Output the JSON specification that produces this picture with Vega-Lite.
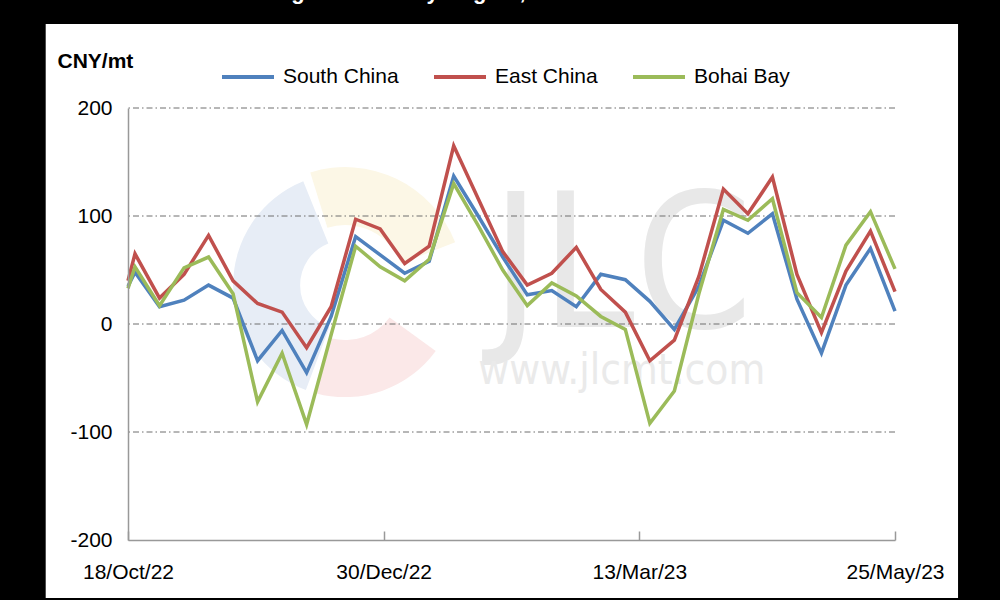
{
  "$schema": "https://vega.github.io/schema/vega-lite/v6.json",
  "width": 767,
  "height": 432,
  "autosize": {"type": "none"},
  "padding": {"left": 128, "top": 108, "right": 105, "bottom": 60},
  "background": "#000000",
  "config": {"view": {"stroke": null}, "font": "Liberation Sans"},
  "data": {
    "values": [
      {"date": "2022-10-18", "region": "South China", "value": 35},
      {"date": "2022-10-18", "region": "East China", "value": 40},
      {"date": "2022-10-18", "region": "Bohai Bay", "value": 33},
      {"date": "2022-10-20", "region": "South China", "value": 48},
      {"date": "2022-10-20", "region": "East China", "value": 65},
      {"date": "2022-10-20", "region": "Bohai Bay", "value": 53},
      {"date": "2022-10-27", "region": "South China", "value": 16},
      {"date": "2022-10-27", "region": "East China", "value": 24},
      {"date": "2022-10-27", "region": "Bohai Bay", "value": 17},
      {"date": "2022-11-03", "region": "South China", "value": 22},
      {"date": "2022-11-03", "region": "East China", "value": 46},
      {"date": "2022-11-03", "region": "Bohai Bay", "value": 52},
      {"date": "2022-11-10", "region": "South China", "value": 36},
      {"date": "2022-11-10", "region": "East China", "value": 82},
      {"date": "2022-11-10", "region": "Bohai Bay", "value": 62},
      {"date": "2022-11-17", "region": "South China", "value": 24},
      {"date": "2022-11-17", "region": "East China", "value": 40},
      {"date": "2022-11-17", "region": "Bohai Bay", "value": 28},
      {"date": "2022-11-24", "region": "South China", "value": -34},
      {"date": "2022-11-24", "region": "East China", "value": 19},
      {"date": "2022-11-24", "region": "Bohai Bay", "value": -72},
      {"date": "2022-12-01", "region": "South China", "value": -6},
      {"date": "2022-12-01", "region": "East China", "value": 11},
      {"date": "2022-12-01", "region": "Bohai Bay", "value": -27},
      {"date": "2022-12-08", "region": "South China", "value": -45},
      {"date": "2022-12-08", "region": "East China", "value": -22},
      {"date": "2022-12-08", "region": "Bohai Bay", "value": -93},
      {"date": "2022-12-15", "region": "South China", "value": 7},
      {"date": "2022-12-15", "region": "East China", "value": 16},
      {"date": "2022-12-15", "region": "Bohai Bay", "value": -10},
      {"date": "2022-12-22", "region": "South China", "value": 81},
      {"date": "2022-12-22", "region": "East China", "value": 97},
      {"date": "2022-12-22", "region": "Bohai Bay", "value": 72},
      {"date": "2022-12-29", "region": "South China", "value": 64},
      {"date": "2022-12-29", "region": "East China", "value": 88},
      {"date": "2022-12-29", "region": "Bohai Bay", "value": 53},
      {"date": "2023-01-05", "region": "South China", "value": 47},
      {"date": "2023-01-05", "region": "East China", "value": 56},
      {"date": "2023-01-05", "region": "Bohai Bay", "value": 40},
      {"date": "2023-01-12", "region": "South China", "value": 58},
      {"date": "2023-01-12", "region": "East China", "value": 72},
      {"date": "2023-01-12", "region": "Bohai Bay", "value": 60},
      {"date": "2023-01-19", "region": "South China", "value": 137},
      {"date": "2023-01-19", "region": "East China", "value": 165},
      {"date": "2023-01-19", "region": "Bohai Bay", "value": 130},
      {"date": "2023-01-26", "region": "South China", "value": 100},
      {"date": "2023-01-26", "region": "East China", "value": 116},
      {"date": "2023-01-26", "region": "Bohai Bay", "value": 91},
      {"date": "2023-02-02", "region": "South China", "value": 62},
      {"date": "2023-02-02", "region": "East China", "value": 67},
      {"date": "2023-02-02", "region": "Bohai Bay", "value": 50},
      {"date": "2023-02-09", "region": "South China", "value": 27},
      {"date": "2023-02-09", "region": "East China", "value": 36},
      {"date": "2023-02-09", "region": "Bohai Bay", "value": 17},
      {"date": "2023-02-16", "region": "South China", "value": 31},
      {"date": "2023-02-16", "region": "East China", "value": 47},
      {"date": "2023-02-16", "region": "Bohai Bay", "value": 38},
      {"date": "2023-02-23", "region": "South China", "value": 16},
      {"date": "2023-02-23", "region": "East China", "value": 71},
      {"date": "2023-02-23", "region": "Bohai Bay", "value": 26},
      {"date": "2023-03-02", "region": "South China", "value": 46},
      {"date": "2023-03-02", "region": "East China", "value": 32},
      {"date": "2023-03-02", "region": "Bohai Bay", "value": 7},
      {"date": "2023-03-09", "region": "South China", "value": 41},
      {"date": "2023-03-09", "region": "East China", "value": 11},
      {"date": "2023-03-09", "region": "Bohai Bay", "value": -5},
      {"date": "2023-03-16", "region": "South China", "value": 21},
      {"date": "2023-03-16", "region": "East China", "value": -34},
      {"date": "2023-03-16", "region": "Bohai Bay", "value": -92},
      {"date": "2023-03-23", "region": "South China", "value": -5},
      {"date": "2023-03-23", "region": "East China", "value": -15},
      {"date": "2023-03-23", "region": "Bohai Bay", "value": -62},
      {"date": "2023-03-30", "region": "South China", "value": 35},
      {"date": "2023-03-30", "region": "East China", "value": 44},
      {"date": "2023-03-30", "region": "Bohai Bay", "value": 28},
      {"date": "2023-04-06", "region": "South China", "value": 96},
      {"date": "2023-04-06", "region": "East China", "value": 125},
      {"date": "2023-04-06", "region": "Bohai Bay", "value": 106},
      {"date": "2023-04-13", "region": "South China", "value": 84},
      {"date": "2023-04-13", "region": "East China", "value": 102},
      {"date": "2023-04-13", "region": "Bohai Bay", "value": 96},
      {"date": "2023-04-20", "region": "South China", "value": 102},
      {"date": "2023-04-20", "region": "East China", "value": 136},
      {"date": "2023-04-20", "region": "Bohai Bay", "value": 116},
      {"date": "2023-04-27", "region": "South China", "value": 23},
      {"date": "2023-04-27", "region": "East China", "value": 46},
      {"date": "2023-04-27", "region": "Bohai Bay", "value": 29},
      {"date": "2023-05-04", "region": "South China", "value": -27},
      {"date": "2023-05-04", "region": "East China", "value": -8},
      {"date": "2023-05-04", "region": "Bohai Bay", "value": 6},
      {"date": "2023-05-11", "region": "South China", "value": 36},
      {"date": "2023-05-11", "region": "East China", "value": 49},
      {"date": "2023-05-11", "region": "Bohai Bay", "value": 73},
      {"date": "2023-05-18", "region": "South China", "value": 70},
      {"date": "2023-05-18", "region": "East China", "value": 86},
      {"date": "2023-05-18", "region": "Bohai Bay", "value": 104},
      {"date": "2023-05-25", "region": "South China", "value": 12},
      {"date": "2023-05-25", "region": "East China", "value": 30},
      {"date": "2023-05-25", "region": "Bohai Bay", "value": 51}
    ]
  },
  "layer": [
    {
      "data": {"values": [{"panel": "background"}]},
      "mark": {"type": "rect", "color": "#ffffff", "clip": false},
      "encoding": {
        "x": {"datum": {"year": 2022, "month": 9, "date": 24, "hours": 12, "utc": true}, "type": "temporal",
              "scale": {"type": "utc", "domain": [{"year": 2022, "month": 10, "date": 18, "utc": true}, {"year": 2023, "month": 5, "date": 25, "utc": true}], "nice": false}},
        "x2": {"datum": {"year": 2023, "month": 6, "date": 12, "utc": true}},
        "y": {"datum": 277.8, "type": "quantitative", "scale": {"domain": [-200, 200], "nice": false}},
        "y2": {"datum": -253.7}
      }
    },
    {
      "data": {"values": [{"title": "China Butane Arbitrage Window by Region, 2022-2023"}]},
      "mark": {"type": "text", "font": "Liberation Sans", "fontSize": 22, "fontWeight": "bold", "color": "#ffffff", "align": "left", "baseline": "alphabetic", "clip": false},
      "encoding": {
        "text": {"field": "title"},
        "x": {"datum": {"year": 2022, "month": 10, "date": 2, "utc": true}, "type": "temporal"},
        "y": {"datum": 301, "type": "quantitative"}
      }
    },
    {
      "data": {"values": [{"part": "blue"}]},
      "mark": {"type": "arc", "color": "#e7edf6", "theta": 3.5, "theta2": 5.9, "innerRadius": 45, "outerRadius": 112, "clip": false},
      "encoding": {
        "x": {"datum": {"year": 2022, "month": 12, "date": 19, "utc": true}, "type": "temporal"},
        "y": {"datum": 36, "type": "quantitative"}
      }
    },
    {
      "data": {"values": [{"part": "yellow"}]},
      "mark": {"type": "arc", "color": "#fcf7e6", "theta": -0.3, "theta2": 1.2, "innerRadius": 60, "outerRadius": 118, "clip": false},
      "encoding": {
        "x": {"datum": {"year": 2022, "month": 12, "date": 19, "utc": true}, "type": "temporal"},
        "y": {"datum": 36, "type": "quantitative"}
      }
    },
    {
      "data": {"values": [{"part": "pink"}]},
      "mark": {"type": "arc", "color": "#fbe8e8", "theta": 2.2, "theta2": 3.4, "innerRadius": 55, "outerRadius": 112, "clip": false},
      "encoding": {
        "x": {"datum": {"year": 2022, "month": 12, "date": 19, "utc": true}, "type": "temporal"},
        "y": {"datum": 36, "type": "quantitative"}
      }
    },
    {
      "data": {"values": [{"mark": "JLC"}]},
      "mark": {"type": "text", "font": "DejaVu Sans Condensed, Liberation Sans", "fontSize": 188, "color": "#e8e8e8", "align": "center", "baseline": "alphabetic", "clip": false},
      "encoding": {
        "text": {"field": "mark"},
        "x": {"datum": {"year": 2023, "month": 3, "date": 8, "utc": true}, "type": "temporal"},
        "y": {"datum": -3, "type": "quantitative"}
      }
    },
    {
      "data": {"values": [{"site": "www.jlcmt.com"}]},
      "mark": {"type": "text", "font": "DejaVu Sans Condensed, Liberation Sans", "fontSize": 42, "color": "#eaeaea", "align": "center", "baseline": "alphabetic", "clip": false},
      "encoding": {
        "text": {"field": "site"},
        "x": {"datum": {"year": 2023, "month": 3, "date": 8, "utc": true}, "type": "temporal"},
        "y": {"datum": -56, "type": "quantitative"}
      }
    },
    {
      "data": {"values": [{"g": -100}, {"g": 0}, {"g": 100}, {"g": 200}]},
      "mark": {"type": "rule", "color": "#6f6f6f", "strokeWidth": 1, "strokeDash": [6, 3, 1.5, 3]},
      "encoding": {
        "y": {"field": "g", "type": "quantitative"}
      }
    },
    {
      "mark": {"type": "line", "strokeWidth": 3.5},
      "encoding": {
        "x": {
          "field": "date", "type": "temporal",
          "scale": {"type": "utc", "domain": [{"year": 2022, "month": 10, "date": 18, "utc": true}, {"year": 2023, "month": 5, "date": 25, "utc": true}], "nice": false},
          "axis": {
            "zindex": 1,
            "values": [
              {"year": 2022, "month": 10, "date": 18, "utc": true},
              {"year": 2022, "month": 12, "date": 30, "utc": true},
              {"year": 2023, "month": 3, "date": 13, "utc": true},
              {"year": 2023, "month": 5, "date": 25, "utc": true}
            ],
            "labelExpr": "utcFormat(datum.value, '%d/%b/%y')",
            "title": null, "grid": false,
            "labelFontSize": 21, "labelColor": "#000000", "labelFont": "Liberation Sans",
            "labelFlush": false, "labelOverlap": false,
            "domainColor": "#999999", "domainWidth": 1.5,
            "tickColor": "#999999", "tickWidth": 1.5, "tickSize": -9,
            "labelPadding": 30
          }
        },
        "y": {
          "field": "value", "type": "quantitative",
          "scale": {"domain": [-200, 200], "nice": false},
          "axis": {
            "zindex": 1,
            "values": [-200, -100, 0, 100, 200],
            "labelExpr": "'' + datum.value",
            "grid": false,
            "ticks": false, "labelPadding": 16,
            "labelFontSize": 21, "labelColor": "#000000", "labelFont": "Liberation Sans",
            "domainColor": "#999999", "domainWidth": 1.5,
            "title": "CNY/mt", "titleAngle": 0, "titleAlign": "left", "titleBaseline": "alphabetic",
            "titleX": -71, "titleY": -41, "titleFontSize": 21, "titleFontWeight": "bold",
            "titleColor": "#000000", "titleFont": "Liberation Sans"
          }
        },
        "color": {
          "field": "region", "type": "nominal",
          "scale": {"domain": ["South China", "East China", "Bohai Bay"], "range": ["#4f81bd", "#c0504d", "#9bbb59"]},
          "legend": {
            "orient": "none", "legendX": 92, "legendY": -59, "direction": "horizontal",
            "title": null, "symbolType": "stroke", "symbolSize": 2704, "symbolStrokeWidth": 4,
            "labelFontSize": 21, "labelColor": "#000000", "labelFont": "Liberation Sans",
            "labelOffset": 7, "columnPadding": 27
          }
        }
      }
    }
  ]
}
